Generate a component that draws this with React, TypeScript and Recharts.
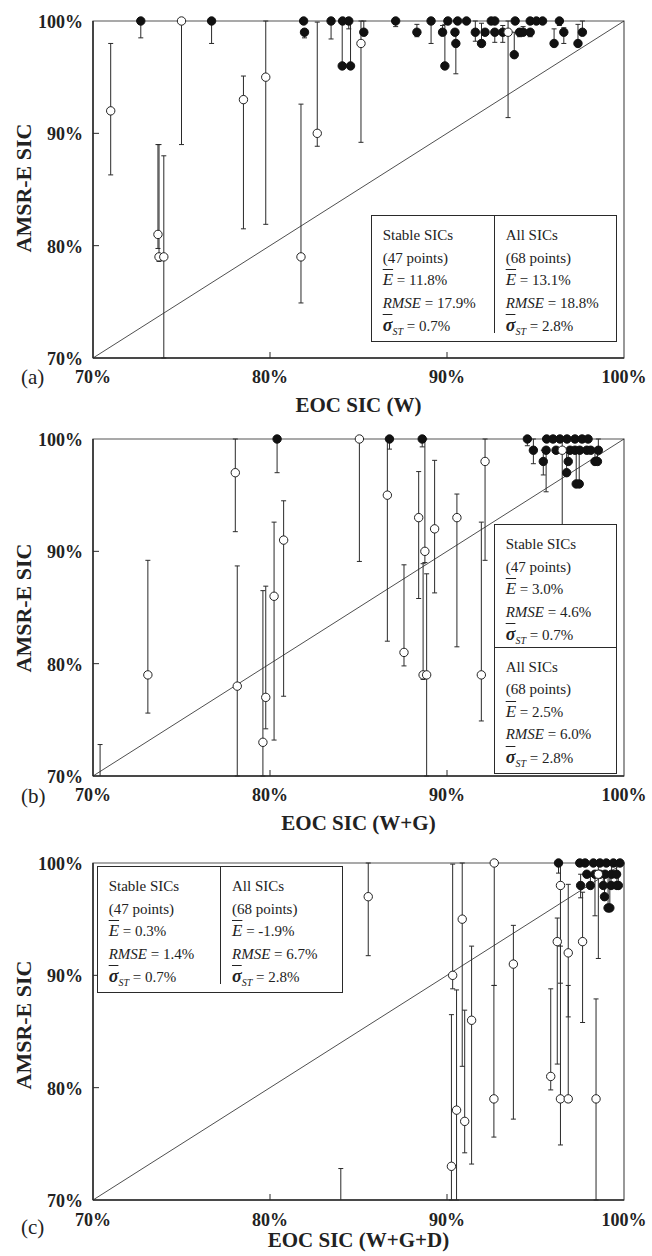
import React from 'react';
import { ScatterChart, Scatter, XAxis, YAxis, ErrorBar, ReferenceLine, ReferenceArea } from 'recharts';

// [EOC SIC, AMSR-E SIC, error bar low, error bar high] in %
type Pt = [number, number, number, number];
// [EOC SIC, top of error bar] for points lying below the 70% floor
type Stub = [number, number];

const axisTicks = [70, 80, 90, 100];

const stableA: Pt[] = [
  [72.7, 100, 98.5, 100], [76.7, 100, 98.0, 100], [81.9, 100, 100, 100], [81.95, 99, 98.5, 99],
  [83.45, 100, 98.4, 100], [84.1, 100, 100, 100], [84.45, 100, 99.3, 100], [84.08, 96, 96, 100],
  [84.55, 96, 96, 100], [85.3, 99, 98.7, 100], [87.1, 100, 99.5, 100], [88.3, 99, 98.6, 99.7],
  [89.1, 100, 98.0, 100], [89.75, 99, 99, 99.6], [89.88, 96, 96, 99.7], [90.05, 100, 100, 100],
  [90.45, 99, 99, 99], [90.5, 98, 95.3, 99], [90.6, 100, 100, 100], [91.1, 100, 100, 100],
  [91.6, 99, 98.2, 100], [91.95, 98, 98, 99.8], [92.15, 99, 99, 99], [92.5, 100, 100, 100],
  [92.7, 100, 100, 100], [92.7, 99, 98.1, 99], [93.15, 99, 98.1, 99.6], [93.8, 97, 97, 99],
  [93.85, 100, 100, 100], [94.1, 99, 98.6, 99], [94.3, 99, 99, 99.5], [94.7, 99, 98.6, 99],
  [94.7, 100, 100, 100], [95.05, 100, 100, 100], [95.4, 100, 100, 100], [96.35, 100, 99.6, 100],
  [96.05, 98, 98, 99.3], [96.6, 99, 98.0, 99.4], [97.4, 98, 98, 99.7], [97.65, 99, 99, 100],
];

const unstableA: Pt[] = [
  [71.0, 92, 86.3, 98.0], [73.67, 81, 79.75, 89.0], [73.73, 79, 78.6, 89.0], [74.0, 79, 70, 88.0],
  [75.0, 100, 89.0, 100], [78.5, 93, 81.5, 95.1], [79.76, 95, 81.9, 100], [81.75, 79, 74.9, 92.6],
  [82.67, 90, 88.85, 99.9], [85.14, 98, 89.2, 100], [93.45, 99, 91.4, 100],
];

const stableB: Pt[] = [
  [80.4, 100, 97.0, 100], [86.75, 100, 99.1, 100], [88.6, 100, 99.3, 100], [94.54, 100, 99.4, 100],
  [94.88, 99, 97.8, 100], [95.44, 98, 96.8, 99], [95.6, 99, 95.3, 99], [95.63, 100, 100, 100],
  [95.99, 100, 100, 100], [96.16, 99, 99, 99], [96.38, 100, 100, 100], [96.78, 100, 100, 100],
  [97.23, 100, 100, 100], [97.63, 100, 100, 100], [97.97, 100, 100, 100], [96.95, 99, 99, 99],
  [97.23, 99, 99, 99], [97.5, 99, 99, 99], [97.9, 99, 99, 99], [98.12, 99, 99, 99],
  [96.85, 98, 98, 99], [96.76, 97, 97, 99], [97.3, 96, 96, 99], [97.47, 96, 96, 99],
  [98.36, 98, 98, 99], [98.5, 98, 98, 99], [98.55, 99, 99, 100],
];

const unstableB: Pt[] = [
  [73.1, 79, 75.6, 89.2], [78.04, 97, 91.75, 100], [78.15, 78, 70, 88.7], [79.6, 73, 70, 86.5],
  [79.76, 77, 74.2, 86.9], [80.23, 86, 73.2, 92.6], [80.77, 91, 77.1, 94.5], [85.05, 100, 89.1, 100],
  [86.63, 95, 82.0, 100], [87.57, 81, 79.8, 88.8], [88.4, 93, 85.8, 97.1], [88.75, 90, 89.0, 100],
  [88.65, 79, 78.6, 88.9], [88.85, 79, 70, 88.0], [89.3, 92, 86.3, 98.1], [90.56, 93, 81.5, 95.1],
  [91.94, 79, 74.9, 92.6], [92.15, 98, 89.2, 100], [96.51, 99, 75, 100],
];

const stubsB: Stub[] = [[70.4, 72.8]];

const stableC: Pt[] = [
  [96.3, 100, 99.1, 100], [97.5, 100, 100, 100], [97.8, 100, 100, 100], [98.27, 100, 100, 100],
  [98.64, 100, 100, 100], [99.0, 100, 100, 100], [99.4, 100, 100, 100], [99.77, 100, 100, 100],
  [97.55, 98, 96.9, 99], [97.9, 99, 99, 99], [98.1, 98, 98, 99], [98.36, 99, 95.3, 99],
  [98.64, 99, 99, 99], [98.83, 98, 98, 99], [99.27, 98, 98, 99], [99.68, 98, 98, 99],
  [99.1, 96, 96, 99], [99.2, 96, 96, 99], [98.93, 99, 99, 99], [99.3, 99, 99, 100],
  [99.58, 99, 99, 100], [98.9, 97, 97, 99], [99.6, 98, 98, 99],
];

const unstableC: Pt[] = [
  [85.55, 97, 91.75, 100], [90.32, 90, 88.8, 99.9], [90.86, 95, 81.9, 100], [92.67, 100, 89.1, 100],
  [93.75, 91, 77.2, 94.45], [91.39, 86, 73.2, 92.6], [90.54, 78, 70, 88.7], [91.0, 77, 74.2, 86.9],
  [90.25, 73, 70, 86.5], [92.65, 79, 75.6, 89.1], [96.23, 93, 82.1, 95.1], [96.41, 98, 89.3, 100],
  [96.85, 92, 86.3, 98.1], [97.66, 93, 85.8, 97.4], [95.86, 81, 79.8, 88.8], [96.41, 79, 74.9, 92.6],
  [96.85, 79, 78.7, 89.1], [98.42, 79, 70, 87.9], [98.55, 99, 91.5, 100],
];

const stubsC: Stub[] = [[84.0, 72.8]];

// stats: [title, points, E, RMSE, sigma_ST]
type Stat = [string, number, string, string, string];
const statsA: Stat[] = [['Stable SICs', 47, '11.8', '17.9', '0.7'], ['All SICs', 68, '13.1', '18.8', '2.8']];
const statsB: Stat[] = [['Stable SICs', 47, '3.0', '4.6', '0.7'], ['All SICs', 68, '2.5', '6.0', '2.8']];
const statsC: Stat[] = [['Stable SICs', 47, '0.3', '1.4', '0.7'], ['All SICs', 68, '-1.9', '6.7', '2.8']];

const SERIF = '"Liberation Serif", "Times New Roman", serif';
const INK = '#2a2a2a';

const toRows = (pts: Pt[]) => pts.map(([x, y, lo, hi]) => ({ x, y, err: [y - lo, hi - y] }));

const XTick = (props: any) => {
  const { x, y, payload, dy } = props;
  const v = payload.value;
  return (
    <g>
      {v > 70 && v < 100 && <line x1={x} x2={x} y1={y} y2={y - 6} stroke={INK} />}
      <text x={x} y={y + dy} textAnchor="middle" fontSize={18} fontWeight="bold" fontFamily={SERIF} fill="#222">{v}%</text>
    </g>
  );
};

const YTick = (props: any) => {
  const { x, y, payload } = props;
  const v = payload.value;
  return (
    <g>
      {v > 70 && v < 100 && <line x1={x} x2={x + 6} y1={y} y2={y} stroke={INK} />}
      <text x={x - 10} y={y + 7} textAnchor="end" fontSize={18} fontWeight="bold" fontFamily={SERIF} fill="#222">{v}%</text>
    </g>
  );
};

const filledDot = (p: any) => <circle cx={p.cx} cy={p.cy} r={4.2} fill="#111" stroke="#111" strokeWidth={1} />;
const openDot = (p: any) => <circle cx={p.cx} cy={p.cy} r={4.2} fill="#fff" stroke="#222" strokeWidth={1} />;

const StatBlock: React.FC<{ s: Stat }> = ({ s }) => (
  <div style={{ paddingLeft: 11, lineHeight: '22.5px' }}>
    <div>{s[0]}</div>
    <div>({s[1]} points)</div>
    <div>
      <span style={{ fontStyle: 'italic', textDecoration: 'overline', fontSize: 17 }}>E</span> = {s[2]}%
    </div>
    <div>
      <span style={{ fontStyle: 'italic' }}>RMSE</span> = {s[3]}%
    </div>
    <div>
      <span style={{ fontStyle: 'italic', fontWeight: 'bold', textDecoration: 'overline', fontSize: 18 }}>σ</span>
      <span style={{ fontStyle: 'italic', fontSize: 10, position: 'relative', top: 4 }}>ST</span> = {s[4]}%
    </div>
  </div>
);

const boxBase: React.CSSProperties = {
  position: 'absolute',
  boxSizing: 'border-box',
  border: `1.5px solid ${INK}`,
  background: '#fff',
  fontFamily: SERIF,
  fontSize: 15,
  color: '#222',
  display: 'flex',
};

interface PanelProps {
  top: number;
  height: number;
  mTop: number;
  mBottom: number;
  stable: Pt[];
  unstable: Pt[];
  stubs: Stub[];
  letter: string;
  xTitle: string;
  tickDy: number;
  letterY: number;
  xTitleY: number;
  yTitleY: number;
  children?: React.ReactNode;
}

const Panel: React.FC<PanelProps> = (p) => {
  const W = 652;
  return (
    <div style={{ position: 'absolute', left: 0, top: p.top, width: W, height: p.height }}>
      <ScatterChart width={W} height={p.height} margin={{ top: p.mTop, right: 28, bottom: p.mBottom, left: 33 }}>
        <XAxis
          dataKey="x"
          type="number"
          domain={[70, 100]}
          ticks={axisTicks}
          height={30}
          tickSize={0}
          tickMargin={0}
          tickLine={false}
          axisLine={{ stroke: INK, strokeWidth: 1.5 }}
          tick={(t: any) => <XTick {...t} dy={p.tickDy} />}
        />
        <YAxis
          dataKey="y"
          type="number"
          domain={[70, 100]}
          ticks={axisTicks}
          width={60}
          tickSize={0}
          tickMargin={0}
          tickLine={false}
          axisLine={{ stroke: INK, strokeWidth: 1.5 }}
          tick={(t: any) => <YTick {...t} />}
        />
        <ReferenceArea x1={70} x2={100} y1={70} y2={100} fill="none" stroke="#555" strokeWidth={1.2} />
        <ReferenceLine segment={[{ x: 70, y: 70 }, { x: 100, y: 100 }]} stroke="#222" strokeWidth={0.8} />
        {p.stubs.map(([x, t], i) => (
          <ReferenceLine key={`s${i}`} segment={[{ x, y: 70 }, { x, y: t }]} stroke={INK} strokeWidth={1} />
        ))}
        {p.stubs.map(([x, t], i) => (
          <ReferenceLine key={`c${i}`} segment={[{ x: x - 0.14, y: t }, { x: x + 0.14, y: t }]} stroke={INK} strokeWidth={1} />
        ))}
        <Scatter data={toRows(p.stable)} dataKey="y" shape={filledDot} isAnimationActive={false}>
          <ErrorBar dataKey="err" direction="y" width={2.5} stroke={INK} strokeWidth={1} isAnimationActive={false} />
        </Scatter>
        <Scatter data={toRows(p.unstable)} dataKey="y" shape={openDot} isAnimationActive={false}>
          <ErrorBar dataKey="err" direction="y" width={2.5} stroke={INK} strokeWidth={1} isAnimationActive={false} />
        </Scatter>
      </ScatterChart>
      <svg width={W} height={p.height} style={{ position: 'absolute', left: 0, top: 0, pointerEvents: 'none' }}>
        <text
          transform={`translate(31, ${p.yTitleY}) rotate(-90)`}
          textAnchor="middle"
          fontSize={22}
          fontWeight="bold"
          fontFamily={SERIF}
          fill="#222"
        >
          AMSR-E SIC
        </text>
        <text x={358.5} y={p.xTitleY} textAnchor="middle" fontSize={21} fontWeight="bold" fontFamily={SERIF} fill="#222">
          {p.xTitle}
        </text>
        <text x={21} y={p.letterY} fontSize={21} fontFamily={SERIF} fill="#222">
          {p.letter}
        </text>
      </svg>
      {p.children}
    </div>
  );
};

export default function App() {
  return (
    <div style={{ position: 'absolute', left: 0, top: 0, width: 652, height: 1256, background: '#fff' }}>
      <Panel
        top={0}
        height={420}
        mTop={21}
        mBottom={32}
        stable={stableA}
        unstable={unstableA}
        stubs={[]}
        letter="(a)"
        xTitle="EOC SIC (W)"
        tickDy={25}
        letterY={384}
        xTitleY={412}
        yTitleY={188}
      >
        <div style={{ ...boxBase, left: 370.7, top: 215, width: 246.6, height: 127.3, paddingTop: 8 }}>
          <div style={{ width: 123, borderRight: `1.5px solid ${INK}`, height: '100%', boxSizing: 'border-box', marginTop: -8, paddingTop: 8 }}>
            <StatBlock s={statsA[0]} />
          </div>
          <div style={{ flex: 1 }}>
            <StatBlock s={statsA[1]} />
          </div>
        </div>
      </Panel>
      <Panel
        top={420}
        height={420}
        mTop={19}
        mBottom={34}
        stable={stableB}
        unstable={unstableB}
        stubs={stubsB}
        letter="(b)"
        xTitle="EOC SIC (W+G)"
        tickDy={25}
        letterY={383}
        xTitleY={410}
        yTitleY={188}
      >
        <div style={{ ...boxBase, left: 493.7, top: 104, width: 123.6, height: 250, flexDirection: 'column' }}>
          <div style={{ height: 122.7, borderBottom: `1.5px solid ${INK}`, boxSizing: 'border-box', paddingTop: 8 }}>
            <StatBlock s={statsB[0]} />
          </div>
          <div style={{ flex: 1, paddingTop: 8 }}>
            <StatBlock s={statsB[1]} />
          </div>
        </div>
      </Panel>
      <Panel
        top={830}
        height={426}
        mTop={33}
        mBottom={26}
        stable={stableC}
        unstable={unstableC}
        stubs={stubsC}
        letter="(c)"
        xTitle="EOC SIC (W+G+D)"
        tickDy={26}
        letterY={404}
        xTitleY={417}
        yTitleY={195}
      >
        <div style={{ ...boxBase, left: 96.7, top: 36, width: 246.6, height: 127.3, paddingTop: 8 }}>
          <div style={{ width: 123.3, borderRight: `1.5px solid ${INK}`, height: '100%', boxSizing: 'border-box', marginTop: -8, paddingTop: 8 }}>
            <StatBlock s={statsC[0]} />
          </div>
          <div style={{ flex: 1 }}>
            <StatBlock s={statsC[1]} />
          </div>
        </div>
      </Panel>
    </div>
  );
}
